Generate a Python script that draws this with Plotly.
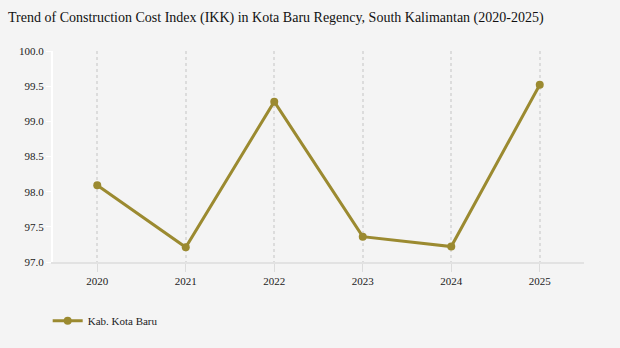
import plotly.graph_objects as go

years = ["2020", "2021", "2022", "2023", "2024", "2025"]
ikk = [98.09, 97.21, 99.28, 97.36, 97.22, 99.52]
y_ticks = [97.0, 97.5, 98.0, 98.5, 99.0, 99.5, 100.0]
series_name = "Kab. Kota Baru"
title = "Trend of Construction Cost Index (IKK) in Kota Baru Regency, South Kalimantan (2020-2025)"

color = "#9b8a30"
font = "Liberation Serif"
tick_font = dict(family=font, size=11, color="#222")

fig = go.Figure()
fig.add_trace(go.Scatter(
    x=years, y=ikk, mode="lines+markers", name=series_name,
    line=dict(color=color, width=3),
    marker=dict(color=color, size=8),
))

fig.update_layout(
    width=620, height=348,
    paper_bgcolor="#f4f4f4", plot_bgcolor="#f4f4f4",
    font=dict(family=font, size=11, color="#222"),
    title=dict(text=title, x=0.013, xanchor="left", y=0.95, yanchor="middle",
               font=dict(family=font, size=14, color="#111")),
    margin=dict(l=53, r=36, t=51, b=86),
    showlegend=True,
    legend=dict(orientation="h", x=-0.01, xanchor="left", y=-0.21, yanchor="top",
                font=dict(family=font, size=11, color="#222"),
                bgcolor="rgba(0,0,0,0)"),
    xaxis=dict(
        type="category", range=[-0.5, 5.5],
        showgrid=True, gridcolor="#dcdcdc", griddash="3px,3px", gridwidth=1.5,
        showline=True, linecolor="#e2e2e2", linewidth=2,
        ticks="outside", ticklen=8, tickcolor="#dcdcdc",
        zeroline=False, tickfont=tick_font,
    ),
    yaxis=dict(
        range=[97.0, 100.0], tickvals=y_ticks,
        ticktext=[f"{v:.1f}" for v in y_ticks],
        showgrid=False, zeroline=False,
        showline=True, linecolor="#ffffff", linewidth=2,
        ticks="outside", ticklen=5, tickcolor="#ffffff",
        tickfont=tick_font,
    ),
)

fig.write_html("out.html")
